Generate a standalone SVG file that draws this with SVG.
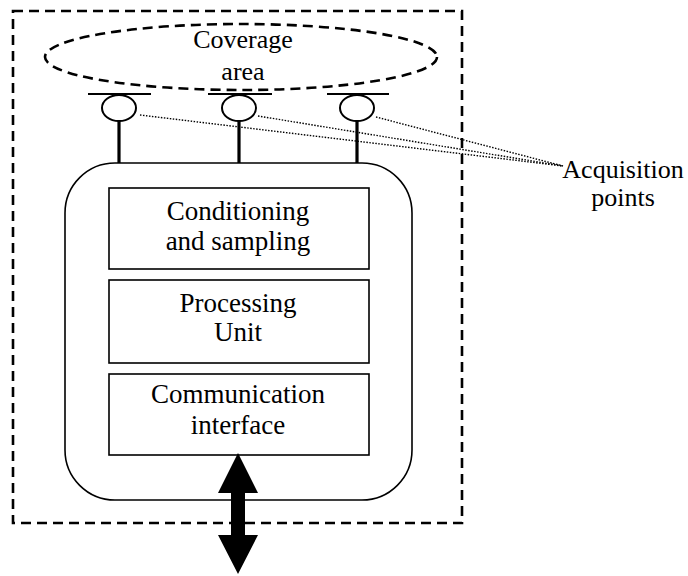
<svg xmlns="http://www.w3.org/2000/svg" width="688" height="576" viewBox="0 0 688 576">
  <style>
    .dash { fill: none; stroke: #000; stroke-width: 2.6; stroke-dasharray: 10 6; }
    .box { fill: #fff; stroke: #000; stroke-width: 1.6; }
    .lbl { font-family: "Liberation Serif", "Times New Roman", serif; font-size: 26px; fill: #000; text-anchor: middle; }
    .blk { font-size: 27px; }
    .dot { fill: none; stroke: #000; stroke-width: 1.4; stroke-dasharray: 1.5 1.5; }
    .bar { stroke: #000; stroke-width: 2.2; }
    .stem { stroke: #000; stroke-width: 3.2; }
    .sensor { fill: #fff; stroke: #000; stroke-width: 2; }
  </style>
  <rect width="688" height="576" fill="#fff"/>

  <!-- node boundary -->
  <rect id="boundary" x="13" y="11" width="449" height="512" class="dash"/>

  <!-- coverage area -->
  <g id="coverage">
    <ellipse cx="241" cy="57" rx="196" ry="33" class="dash"/>
    <text class="lbl" x="243" y="48">Coverage</text>
    <text class="lbl" x="243" y="80">area</text>
  </g>

  <!-- acquisition points -->
  <g id="sensor1">
    <line x1="88" y1="94" x2="151" y2="94" class="bar"/>
    <ellipse cx="119" cy="108" rx="17" ry="13" class="sensor"/>
    <line x1="119" y1="121" x2="119" y2="163" class="stem"/>
  </g>
  <g id="sensor2">
    <line x1="208" y1="94" x2="272" y2="94" class="bar"/>
    <ellipse cx="239" cy="108" rx="17" ry="13" class="sensor"/>
    <line x1="239" y1="121" x2="239" y2="163" class="stem"/>
  </g>
  <g id="sensor3">
    <line x1="327" y1="94" x2="389" y2="94" class="bar"/>
    <ellipse cx="357" cy="108" rx="17" ry="13" class="sensor"/>
    <line x1="357" y1="121" x2="357" y2="163" class="stem"/>
  </g>

  <!-- node body -->
  <g id="node">
    <rect x="65" y="163" width="347" height="337" rx="50" ry="50" class="box"/>
  </g>
  <g id="conditioning">
    <rect x="109" y="188" width="260" height="81" class="box"/>
    <text class="lbl blk" x="238" y="220">Conditioning</text>
    <text class="lbl blk" x="238" y="250">and sampling</text>
  </g>
  <g id="processing">
    <rect x="109" y="280" width="260" height="83" class="box"/>
    <text class="lbl blk" x="238" y="312">Processing</text>
    <text class="lbl blk" x="238" y="341">Unit</text>
  </g>
  <g id="communication">
    <rect x="109" y="374" width="260" height="81" class="box"/>
    <text class="lbl blk" x="238" y="403">Communication</text>
    <text class="lbl blk" x="238" y="434">interface</text>
  </g>

  <!-- label -->
  <g id="acq-label">
    <text class="lbl" x="623" y="178" font-size="24">Acquisition</text>
    <text class="lbl" x="623" y="206" font-size="24">points</text>
  </g>

  <g id="connectors">
    <line x1="140" y1="115" x2="563" y2="166" class="dot"/>
    <line x1="258" y1="116" x2="563" y2="166" class="dot"/>
    <line x1="376" y1="117" x2="563" y2="166" class="dot"/>
    <!-- bidirectional link -->
    <path d="M238 453 L258 493 L245 493 L245 535 L258 535 L238 574 L218 535 L231 535 L231 493 L218 493 Z" fill="#000"/>
  </g>
</svg>
